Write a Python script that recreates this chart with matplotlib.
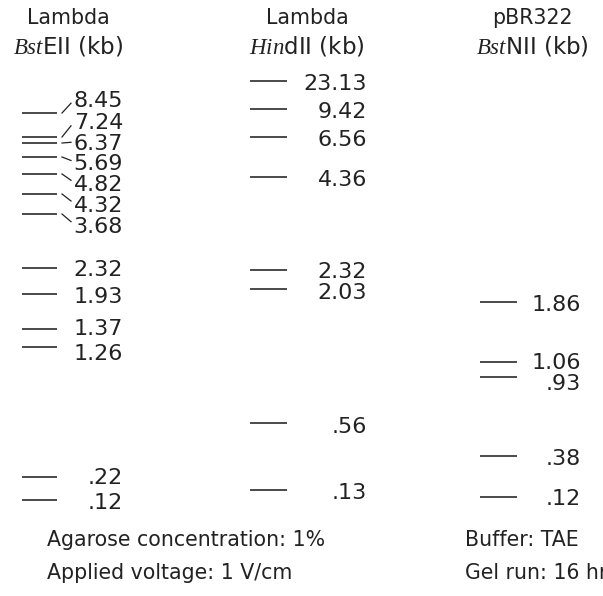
import matplotlib
matplotlib.use("Agg")
import matplotlib.pyplot as plt

plt.rcParams["font.family"] = ["DejaVu Sans"]
plt.rcParams["mathtext.fontset"] = "custom"
plt.rcParams["mathtext.it"] = "Liberation Serif:italic"
plt.rcParams["mathtext.rm"] = "DejaVu Sans"

bst_sizes = ["8.45", "7.24", "6.37", "5.69", "4.82", "4.32", "3.68",
             "2.32", "1.93", "1.37", "1.26", ".22", ".12"]
bst_migr = [113, 137, 143, 157, 174, 194, 214, 268, 294, 329, 347, 477, 500]
bst_label_pos = [99, 121, 142, 162, 183, 204, 225, 268, 295, 327, 352, 476, 501]

hind_sizes = ["23.13", "9.42", "6.56", "4.36", "2.32", "2.03", ".56", ".13"]
hind_migr = [81, 109, 137, 177, 270, 289, 423, 490]
hind_label_pos = [82, 110, 138, 178, 270, 291, 425, 491]

pbr_sizes = ["1.86", "1.06", ".93", ".38", ".12"]
pbr_migr = [302, 362, 377, 456, 497]
pbr_label_pos = [303, 361, 382, 457, 497]

lane_titles = [("Lambda", r"$\mathit{Bst}$EII (kb)"),
               ("Lambda", r"$\mathit{Hin}$dII (kb)"),
               ("pBR322", r"$\mathit{Bst}$NII (kb)")]

conditions = [("Agarose concentration: 1%", "Buffer: TAE"),
              ("Applied voltage: 1 V/cm", "Gel run: 16 hr")]

INK = "#222222"

fig = plt.figure(figsize=(6.03, 5.96), dpi=100)
ax = fig.add_axes([0, 0, 1, 1])
ax.set_xlim(0, 603)
ax.set_ylim(596, 0)
ax.axis("off")

# lane geometry: band start/end x, label right edge x, title centre x
lanes = [
    (bst_migr, bst_sizes, bst_label_pos, 22, 57, 123, 68),
    (hind_migr, hind_sizes, hind_label_pos, 250, 287, 367, 307),
    (pbr_migr, pbr_sizes, pbr_label_pos, 480, 517, 581, 532),
]

for i, (migr, sizes, lpos, x0, x1, xr, xc) in enumerate(lanes):
    ax.hlines(migr, x0, x1, color=INK, lw=1.15)
    for m, s, ly in zip(migr, sizes, lpos):
        ax.text(xr, ly + 8, s, ha="right", va="baseline", fontsize=16,
                color=INK)
    t1, t2 = lane_titles[i]
    ax.text(xc, 18, t1, ha="center", va="center", fontsize=14.8, color=INK)
    ax.text(xc, 46, t2, ha="center", va="center", fontsize=16.5, color=INK)

# leader lines for the crowded top of the BstEII ladder
for m, ly in zip(bst_migr[:7], bst_label_pos[:7]):
    ax.plot([62, 71], [m, m + 0.7 * (ly - m)], color=INK, lw=0.9)

for row, (left, right) in enumerate(conditions):
    y = 540 + row * 33
    ax.text(47, y, left, ha="left", va="center", fontsize=14.8, color=INK)
    ax.text(465, y, right, ha="left", va="center", fontsize=14.8, color=INK)

fig.savefig("out.png", dpi=100)
